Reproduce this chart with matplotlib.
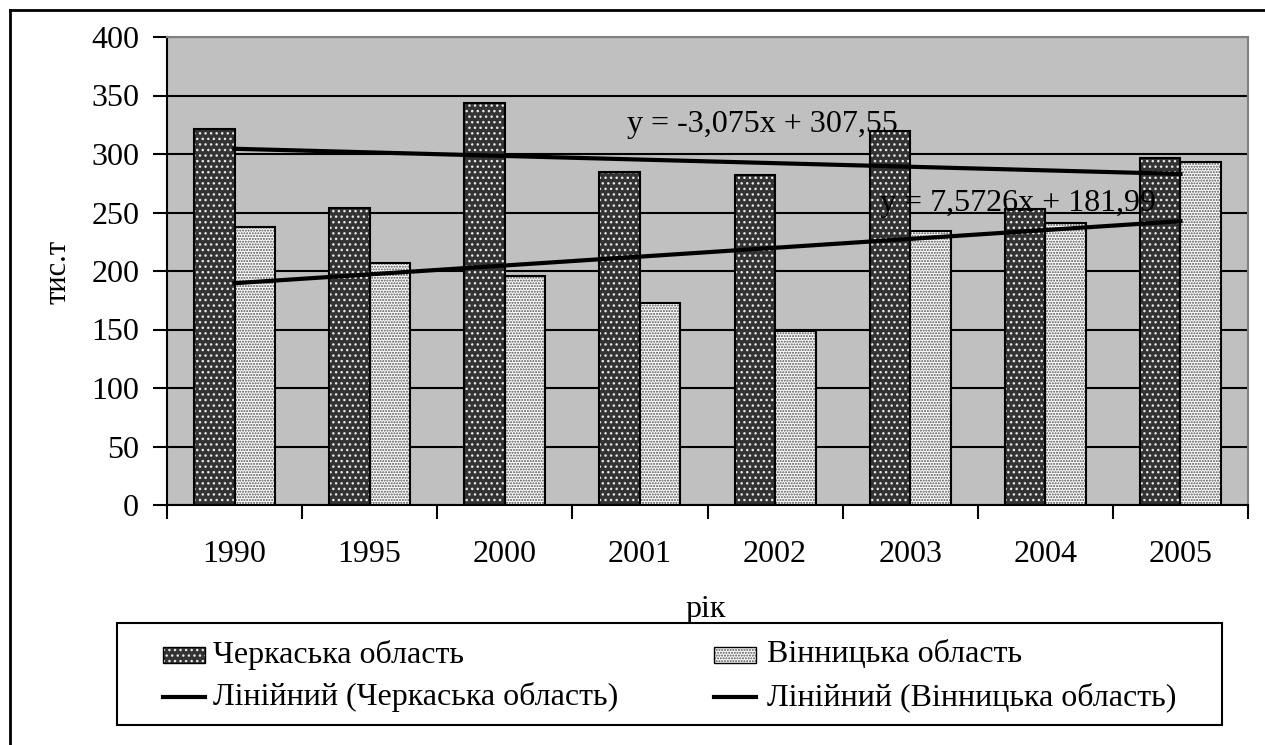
import matplotlib
matplotlib.use("Agg")
import matplotlib.pyplot as plt
from matplotlib.lines import Line2D
from matplotlib.patches import Rectangle
import numpy as np

years = ["1990", "1995", "2000", "2001", "2002", "2003", "2004", "2005"]
cherkasy = [321, 254, 344, 285, 282, 320, 253, 297]
vinnytsia = [238, 207, 196, 173, 149, 234, 241, 293]
# trendline coefficients as printed on the chart (slope, intercept)
trend_cherkasy = (-3.075, 307.55)
trend_vinnytsia = (7.5726, 181.99)
eq_cherkasy = "y = -3,075x + 307,55"
eq_vinnytsia = "y = 7,5726x + 181,99"
name_ch = "Черкаська область"
name_vn = "Вінницька область"

plt.rcParams['font.family'] = ['Liberation Serif', 'DejaVu Serif']
plt.rcParams['font.size'] = 23
plt.rcParams['hatch.linewidth'] = 1.0

W, H = 1265, 745
fig = plt.figure(figsize=(W / 100, H / 100), dpi=100)
fig.patch.set_facecolor('white')


def px(xp, yp):
    # pixel position (from top-left) to figure fraction
    return xp / W, 1 - yp / H


# plot area in pixels: left 167, right 1248, top 37, bottom 505
ax = fig.add_axes([167 / W, 1 - 505 / H, (1248 - 167) / W, (505 - 37) / H])
ax.set_facecolor('#c0c0c0')

x = np.arange(len(years))
bw = 0.3

ch_kw = dict(facecolor='#333333', hatch='...', edgecolor='#e8e8e8', linewidth=0)
vn_kw = dict(facecolor='white', hatch='......', edgecolor='#505050', linewidth=0)
ax.bar(x - bw / 2, cherkasy, bw, zorder=2, **ch_kw)
ax.bar(x - bw / 2, cherkasy, bw, fill=False, edgecolor='black', linewidth=1.5, zorder=3)
ax.bar(x + bw / 2, vinnytsia, bw, zorder=2, **vn_kw)
ax.bar(x + bw / 2, vinnytsia, bw, fill=False, edgecolor='black', linewidth=1.5, zorder=3)

# linear trendlines, Excel uses x = 1..n
xt = x + 1
ax.plot(x, trend_cherkasy[0] * xt + trend_cherkasy[1], color='black', lw=3, zorder=4)
ax.plot(x, trend_vinnytsia[0] * xt + trend_vinnytsia[1], color='black', lw=3, zorder=4)

ax.text(0.4255, 0.814, eq_cherkasy, transform=ax.transAxes, va='center', ha='left', zorder=5)
ax.text(0.6596, 0.645, eq_vinnytsia, transform=ax.transAxes, va='center', ha='left', zorder=5)

ax.set_xlim(-0.5, len(years) - 0.5)
ax.set_ylim(0, 400)
ax.set_yticks(range(0, 401, 50))
ax.yaxis.grid(True, color='black', lw=1.5)
ax.set_axisbelow(True)
ax.tick_params(axis='y', length=10, width=1.5, pad=10, direction='out')

# ticks between categories, labels at category centres
ax.set_xticks(np.arange(-0.5, len(years), 1.0))
ax.set_xticklabels([])
ax.set_xticks(x, minor=True)
ax.set_xticklabels(years, minor=True)
ax.tick_params(axis='x', which='major', length=10, width=1.5, direction='out')
ax.tick_params(axis='x', which='minor', length=0, pad=25)

for side in ('left', 'bottom'):
    ax.spines[side].set_color('black')
    ax.spines[side].set_linewidth(1.5)
for side in ('top', 'right'):
    ax.spines[side].set_color('#808080')
    ax.spines[side].set_linewidth(1.5)

fig.text(*px(58, 272), "тис.т", rotation=90, ha='center', va='center', fontsize=22)
fig.text(*px(706, 609), "рік", ha='center', va='center')

# legend drawn by hand: frame, keys and labels
x0, y0 = px(117, 725)
x1, y1 = px(1222, 623)
fig.add_artist(Rectangle((x0, y0), x1 - x0, y1 - y0, transform=fig.transFigure,
                         facecolor='white', edgecolor='black', lw=1.5, zorder=1))
key_w, key_h = 42 / W, 16 / H
rows = [655, 697]
cols = [(163, 213), (714, 767)]
entries = [(ch_kw, name_ch), (vn_kw, name_vn)]
for (kx, tx), (kw, name) in zip(cols, entries):
    fx, fy = px(kx, rows[0])
    fig.add_artist(Rectangle((fx, fy - key_h / 2), key_w, key_h, transform=fig.transFigure,
                             zorder=2, **kw))
    fig.add_artist(Rectangle((fx, fy - key_h / 2), key_w, key_h, transform=fig.transFigure,
                             fill=False, edgecolor='black', lw=1.0, zorder=3))
    fig.text(*px(tx, rows[0]), name, ha='left', va='center')
    fx, fy = px(kx, rows[1])
    fig.add_artist(Line2D([fx, fx + key_w], [fy, fy], transform=fig.transFigure,
                          color='black', lw=3))
    fig.text(*px(tx, rows[1]), "Лінійний (" + name + ")", ha='left', va='center')

# outer frame of the chart object
fig.add_artist(Line2D([10 / W, 10 / W], [0, 1 - 10 / H], transform=fig.transFigure,
                      color='black', lw=2))
fig.add_artist(Line2D([10 / W, 1], [1 - 10 / H, 1 - 10 / H], transform=fig.transFigure,
                      color='black', lw=2))

fig.savefig("out.png", dpi=100)
